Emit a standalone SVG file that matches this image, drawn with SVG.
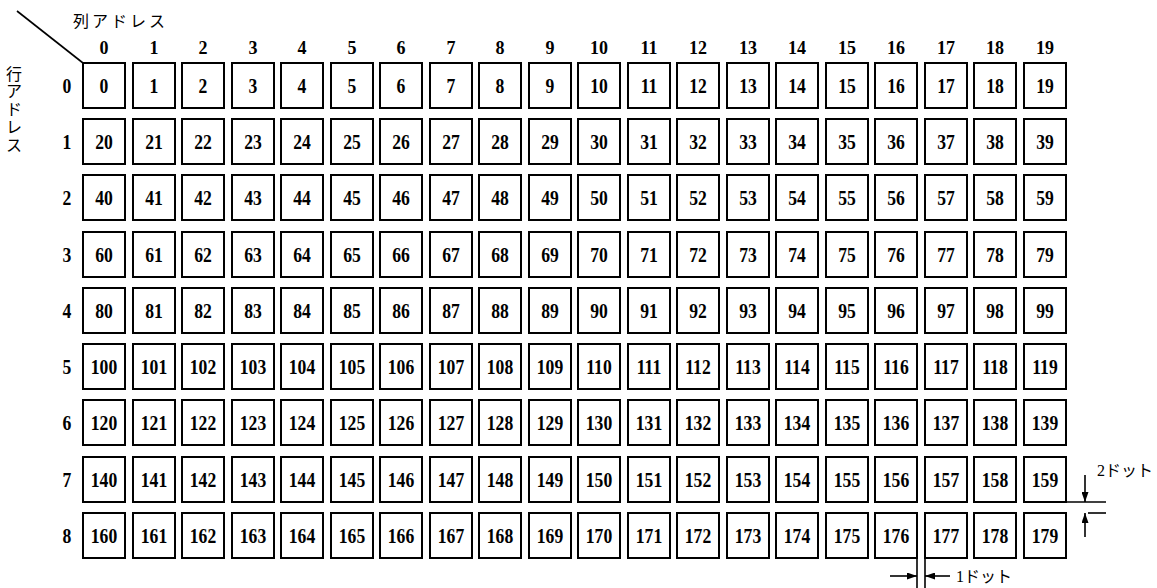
<svg xmlns="http://www.w3.org/2000/svg" width="1157" height="588" viewBox="0 0 1157 588">
<style>
.b{fill:#fff;stroke:#000;stroke-width:2}
.t{font-family:"Liberation Serif",serif;font-weight:bold;font-size:22px;text-anchor:middle;fill:#000;transform:scale(0.8,1)}
.c{font-family:"Liberation Serif",serif;font-weight:bold;font-size:18px;text-anchor:middle;fill:#000}
.j{font-family:"Liberation Serif","Noto Sans CJK JP",sans-serif;font-size:16px;fill:#000}
.l{stroke:#000;stroke-width:1.6;fill:none}
</style>
<defs>
<marker id="ah" markerUnits="userSpaceOnUse" markerWidth="10" markerHeight="7" refX="10" refY="3.5" orient="auto"><path d="M0,0 L10,3.5 L0,7 z" fill="#000"/></marker>
<rect id="cell" class="b" x="-21" y="0" width="42" height="45"/>
</defs>
<rect width="1157" height="588" fill="#fff"/>
<g id="headers">
<line class="l" x1="17" y1="11" x2="83" y2="63"/>
<text class="j" x="73" y="27" letter-spacing="3" font-size="17">列アドレス</text>
<text class="j" text-anchor="middle" font-size="15"><tspan x="14" y="80">行</tspan><tspan x="14" y="97">ア</tspan><tspan x="14" y="115">ド</tspan><tspan x="14" y="133">レ</tspan><tspan x="14" y="151">ス</tspan></text>
<g id="collabels">
<text class="c" x="104" y="54">0</text><text class="c" x="154" y="54">1</text><text class="c" x="203" y="54">2</text><text class="c" x="253" y="54">3</text><text class="c" x="302" y="54">4</text><text class="c" x="352" y="54">5</text><text class="c" x="401" y="54">6</text><text class="c" x="451" y="54">7</text><text class="c" x="500" y="54">8</text><text class="c" x="550" y="54">9</text><text class="c" x="599" y="54">10</text><text class="c" x="649" y="54">11</text><text class="c" x="698" y="54">12</text><text class="c" x="748" y="54">13</text><text class="c" x="797" y="54">14</text><text class="c" x="847" y="54">15</text><text class="c" x="896" y="54">16</text><text class="c" x="946" y="54">17</text><text class="c" x="995" y="54">18</text><text class="c" x="1045" y="54">19</text>
</g>
<g id="rowlabels" transform="translate(67,0)">
<text class="t" x="0" y="93">0</text><text class="t" x="0" y="149">1</text><text class="t" x="0" y="205">2</text><text class="t" x="0" y="262">3</text><text class="t" x="0" y="318">4</text><text class="t" x="0" y="374">5</text><text class="t" x="0" y="430">6</text><text class="t" x="0" y="487">7</text><text class="t" x="0" y="543">8</text>
</g>
</g>
<g id="cells">
<g id="n0" transform="translate(104,63)"><use href="#cell"/><text class="t" y="30">0</text></g>
<g id="n1" transform="translate(154,63)"><use href="#cell"/><text class="t" y="30">1</text></g>
<g id="n2" transform="translate(203,63)"><use href="#cell"/><text class="t" y="30">2</text></g>
<g id="n3" transform="translate(253,63)"><use href="#cell"/><text class="t" y="30">3</text></g>
<g id="n4" transform="translate(302,63)"><use href="#cell"/><text class="t" y="30">4</text></g>
<g id="n5" transform="translate(352,63)"><use href="#cell"/><text class="t" y="30">5</text></g>
<g id="n6" transform="translate(401,63)"><use href="#cell"/><text class="t" y="30">6</text></g>
<g id="n7" transform="translate(451,63)"><use href="#cell"/><text class="t" y="30">7</text></g>
<g id="n8" transform="translate(500,63)"><use href="#cell"/><text class="t" y="30">8</text></g>
<g id="n9" transform="translate(550,63)"><use href="#cell"/><text class="t" y="30">9</text></g>
<g id="n10" transform="translate(599,63)"><use href="#cell"/><text class="t" y="30">10</text></g>
<g id="n11" transform="translate(649,63)"><use href="#cell"/><text class="t" y="30">11</text></g>
<g id="n12" transform="translate(698,63)"><use href="#cell"/><text class="t" y="30">12</text></g>
<g id="n13" transform="translate(748,63)"><use href="#cell"/><text class="t" y="30">13</text></g>
<g id="n14" transform="translate(797,63)"><use href="#cell"/><text class="t" y="30">14</text></g>
<g id="n15" transform="translate(847,63)"><use href="#cell"/><text class="t" y="30">15</text></g>
<g id="n16" transform="translate(896,63)"><use href="#cell"/><text class="t" y="30">16</text></g>
<g id="n17" transform="translate(946,63)"><use href="#cell"/><text class="t" y="30">17</text></g>
<g id="n18" transform="translate(995,63)"><use href="#cell"/><text class="t" y="30">18</text></g>
<g id="n19" transform="translate(1045,63)"><use href="#cell"/><text class="t" y="30">19</text></g>
<g id="n20" transform="translate(104,119)"><use href="#cell"/><text class="t" y="30">20</text></g>
<g id="n21" transform="translate(154,119)"><use href="#cell"/><text class="t" y="30">21</text></g>
<g id="n22" transform="translate(203,119)"><use href="#cell"/><text class="t" y="30">22</text></g>
<g id="n23" transform="translate(253,119)"><use href="#cell"/><text class="t" y="30">23</text></g>
<g id="n24" transform="translate(302,119)"><use href="#cell"/><text class="t" y="30">24</text></g>
<g id="n25" transform="translate(352,119)"><use href="#cell"/><text class="t" y="30">25</text></g>
<g id="n26" transform="translate(401,119)"><use href="#cell"/><text class="t" y="30">26</text></g>
<g id="n27" transform="translate(451,119)"><use href="#cell"/><text class="t" y="30">27</text></g>
<g id="n28" transform="translate(500,119)"><use href="#cell"/><text class="t" y="30">28</text></g>
<g id="n29" transform="translate(550,119)"><use href="#cell"/><text class="t" y="30">29</text></g>
<g id="n30" transform="translate(599,119)"><use href="#cell"/><text class="t" y="30">30</text></g>
<g id="n31" transform="translate(649,119)"><use href="#cell"/><text class="t" y="30">31</text></g>
<g id="n32" transform="translate(698,119)"><use href="#cell"/><text class="t" y="30">32</text></g>
<g id="n33" transform="translate(748,119)"><use href="#cell"/><text class="t" y="30">33</text></g>
<g id="n34" transform="translate(797,119)"><use href="#cell"/><text class="t" y="30">34</text></g>
<g id="n35" transform="translate(847,119)"><use href="#cell"/><text class="t" y="30">35</text></g>
<g id="n36" transform="translate(896,119)"><use href="#cell"/><text class="t" y="30">36</text></g>
<g id="n37" transform="translate(946,119)"><use href="#cell"/><text class="t" y="30">37</text></g>
<g id="n38" transform="translate(995,119)"><use href="#cell"/><text class="t" y="30">38</text></g>
<g id="n39" transform="translate(1045,119)"><use href="#cell"/><text class="t" y="30">39</text></g>
<g id="n40" transform="translate(104,175)"><use href="#cell"/><text class="t" y="30">40</text></g>
<g id="n41" transform="translate(154,175)"><use href="#cell"/><text class="t" y="30">41</text></g>
<g id="n42" transform="translate(203,175)"><use href="#cell"/><text class="t" y="30">42</text></g>
<g id="n43" transform="translate(253,175)"><use href="#cell"/><text class="t" y="30">43</text></g>
<g id="n44" transform="translate(302,175)"><use href="#cell"/><text class="t" y="30">44</text></g>
<g id="n45" transform="translate(352,175)"><use href="#cell"/><text class="t" y="30">45</text></g>
<g id="n46" transform="translate(401,175)"><use href="#cell"/><text class="t" y="30">46</text></g>
<g id="n47" transform="translate(451,175)"><use href="#cell"/><text class="t" y="30">47</text></g>
<g id="n48" transform="translate(500,175)"><use href="#cell"/><text class="t" y="30">48</text></g>
<g id="n49" transform="translate(550,175)"><use href="#cell"/><text class="t" y="30">49</text></g>
<g id="n50" transform="translate(599,175)"><use href="#cell"/><text class="t" y="30">50</text></g>
<g id="n51" transform="translate(649,175)"><use href="#cell"/><text class="t" y="30">51</text></g>
<g id="n52" transform="translate(698,175)"><use href="#cell"/><text class="t" y="30">52</text></g>
<g id="n53" transform="translate(748,175)"><use href="#cell"/><text class="t" y="30">53</text></g>
<g id="n54" transform="translate(797,175)"><use href="#cell"/><text class="t" y="30">54</text></g>
<g id="n55" transform="translate(847,175)"><use href="#cell"/><text class="t" y="30">55</text></g>
<g id="n56" transform="translate(896,175)"><use href="#cell"/><text class="t" y="30">56</text></g>
<g id="n57" transform="translate(946,175)"><use href="#cell"/><text class="t" y="30">57</text></g>
<g id="n58" transform="translate(995,175)"><use href="#cell"/><text class="t" y="30">58</text></g>
<g id="n59" transform="translate(1045,175)"><use href="#cell"/><text class="t" y="30">59</text></g>
<g id="n60" transform="translate(104,232)"><use href="#cell"/><text class="t" y="30">60</text></g>
<g id="n61" transform="translate(154,232)"><use href="#cell"/><text class="t" y="30">61</text></g>
<g id="n62" transform="translate(203,232)"><use href="#cell"/><text class="t" y="30">62</text></g>
<g id="n63" transform="translate(253,232)"><use href="#cell"/><text class="t" y="30">63</text></g>
<g id="n64" transform="translate(302,232)"><use href="#cell"/><text class="t" y="30">64</text></g>
<g id="n65" transform="translate(352,232)"><use href="#cell"/><text class="t" y="30">65</text></g>
<g id="n66" transform="translate(401,232)"><use href="#cell"/><text class="t" y="30">66</text></g>
<g id="n67" transform="translate(451,232)"><use href="#cell"/><text class="t" y="30">67</text></g>
<g id="n68" transform="translate(500,232)"><use href="#cell"/><text class="t" y="30">68</text></g>
<g id="n69" transform="translate(550,232)"><use href="#cell"/><text class="t" y="30">69</text></g>
<g id="n70" transform="translate(599,232)"><use href="#cell"/><text class="t" y="30">70</text></g>
<g id="n71" transform="translate(649,232)"><use href="#cell"/><text class="t" y="30">71</text></g>
<g id="n72" transform="translate(698,232)"><use href="#cell"/><text class="t" y="30">72</text></g>
<g id="n73" transform="translate(748,232)"><use href="#cell"/><text class="t" y="30">73</text></g>
<g id="n74" transform="translate(797,232)"><use href="#cell"/><text class="t" y="30">74</text></g>
<g id="n75" transform="translate(847,232)"><use href="#cell"/><text class="t" y="30">75</text></g>
<g id="n76" transform="translate(896,232)"><use href="#cell"/><text class="t" y="30">76</text></g>
<g id="n77" transform="translate(946,232)"><use href="#cell"/><text class="t" y="30">77</text></g>
<g id="n78" transform="translate(995,232)"><use href="#cell"/><text class="t" y="30">78</text></g>
<g id="n79" transform="translate(1045,232)"><use href="#cell"/><text class="t" y="30">79</text></g>
<g id="n80" transform="translate(104,288)"><use href="#cell"/><text class="t" y="30">80</text></g>
<g id="n81" transform="translate(154,288)"><use href="#cell"/><text class="t" y="30">81</text></g>
<g id="n82" transform="translate(203,288)"><use href="#cell"/><text class="t" y="30">82</text></g>
<g id="n83" transform="translate(253,288)"><use href="#cell"/><text class="t" y="30">83</text></g>
<g id="n84" transform="translate(302,288)"><use href="#cell"/><text class="t" y="30">84</text></g>
<g id="n85" transform="translate(352,288)"><use href="#cell"/><text class="t" y="30">85</text></g>
<g id="n86" transform="translate(401,288)"><use href="#cell"/><text class="t" y="30">86</text></g>
<g id="n87" transform="translate(451,288)"><use href="#cell"/><text class="t" y="30">87</text></g>
<g id="n88" transform="translate(500,288)"><use href="#cell"/><text class="t" y="30">88</text></g>
<g id="n89" transform="translate(550,288)"><use href="#cell"/><text class="t" y="30">89</text></g>
<g id="n90" transform="translate(599,288)"><use href="#cell"/><text class="t" y="30">90</text></g>
<g id="n91" transform="translate(649,288)"><use href="#cell"/><text class="t" y="30">91</text></g>
<g id="n92" transform="translate(698,288)"><use href="#cell"/><text class="t" y="30">92</text></g>
<g id="n93" transform="translate(748,288)"><use href="#cell"/><text class="t" y="30">93</text></g>
<g id="n94" transform="translate(797,288)"><use href="#cell"/><text class="t" y="30">94</text></g>
<g id="n95" transform="translate(847,288)"><use href="#cell"/><text class="t" y="30">95</text></g>
<g id="n96" transform="translate(896,288)"><use href="#cell"/><text class="t" y="30">96</text></g>
<g id="n97" transform="translate(946,288)"><use href="#cell"/><text class="t" y="30">97</text></g>
<g id="n98" transform="translate(995,288)"><use href="#cell"/><text class="t" y="30">98</text></g>
<g id="n99" transform="translate(1045,288)"><use href="#cell"/><text class="t" y="30">99</text></g>
<g id="n100" transform="translate(104,344)"><use href="#cell"/><text class="t" y="30">100</text></g>
<g id="n101" transform="translate(154,344)"><use href="#cell"/><text class="t" y="30">101</text></g>
<g id="n102" transform="translate(203,344)"><use href="#cell"/><text class="t" y="30">102</text></g>
<g id="n103" transform="translate(253,344)"><use href="#cell"/><text class="t" y="30">103</text></g>
<g id="n104" transform="translate(302,344)"><use href="#cell"/><text class="t" y="30">104</text></g>
<g id="n105" transform="translate(352,344)"><use href="#cell"/><text class="t" y="30">105</text></g>
<g id="n106" transform="translate(401,344)"><use href="#cell"/><text class="t" y="30">106</text></g>
<g id="n107" transform="translate(451,344)"><use href="#cell"/><text class="t" y="30">107</text></g>
<g id="n108" transform="translate(500,344)"><use href="#cell"/><text class="t" y="30">108</text></g>
<g id="n109" transform="translate(550,344)"><use href="#cell"/><text class="t" y="30">109</text></g>
<g id="n110" transform="translate(599,344)"><use href="#cell"/><text class="t" y="30">110</text></g>
<g id="n111" transform="translate(649,344)"><use href="#cell"/><text class="t" y="30">111</text></g>
<g id="n112" transform="translate(698,344)"><use href="#cell"/><text class="t" y="30">112</text></g>
<g id="n113" transform="translate(748,344)"><use href="#cell"/><text class="t" y="30">113</text></g>
<g id="n114" transform="translate(797,344)"><use href="#cell"/><text class="t" y="30">114</text></g>
<g id="n115" transform="translate(847,344)"><use href="#cell"/><text class="t" y="30">115</text></g>
<g id="n116" transform="translate(896,344)"><use href="#cell"/><text class="t" y="30">116</text></g>
<g id="n117" transform="translate(946,344)"><use href="#cell"/><text class="t" y="30">117</text></g>
<g id="n118" transform="translate(995,344)"><use href="#cell"/><text class="t" y="30">118</text></g>
<g id="n119" transform="translate(1045,344)"><use href="#cell"/><text class="t" y="30">119</text></g>
<g id="n120" transform="translate(104,400)"><use href="#cell"/><text class="t" y="30">120</text></g>
<g id="n121" transform="translate(154,400)"><use href="#cell"/><text class="t" y="30">121</text></g>
<g id="n122" transform="translate(203,400)"><use href="#cell"/><text class="t" y="30">122</text></g>
<g id="n123" transform="translate(253,400)"><use href="#cell"/><text class="t" y="30">123</text></g>
<g id="n124" transform="translate(302,400)"><use href="#cell"/><text class="t" y="30">124</text></g>
<g id="n125" transform="translate(352,400)"><use href="#cell"/><text class="t" y="30">125</text></g>
<g id="n126" transform="translate(401,400)"><use href="#cell"/><text class="t" y="30">126</text></g>
<g id="n127" transform="translate(451,400)"><use href="#cell"/><text class="t" y="30">127</text></g>
<g id="n128" transform="translate(500,400)"><use href="#cell"/><text class="t" y="30">128</text></g>
<g id="n129" transform="translate(550,400)"><use href="#cell"/><text class="t" y="30">129</text></g>
<g id="n130" transform="translate(599,400)"><use href="#cell"/><text class="t" y="30">130</text></g>
<g id="n131" transform="translate(649,400)"><use href="#cell"/><text class="t" y="30">131</text></g>
<g id="n132" transform="translate(698,400)"><use href="#cell"/><text class="t" y="30">132</text></g>
<g id="n133" transform="translate(748,400)"><use href="#cell"/><text class="t" y="30">133</text></g>
<g id="n134" transform="translate(797,400)"><use href="#cell"/><text class="t" y="30">134</text></g>
<g id="n135" transform="translate(847,400)"><use href="#cell"/><text class="t" y="30">135</text></g>
<g id="n136" transform="translate(896,400)"><use href="#cell"/><text class="t" y="30">136</text></g>
<g id="n137" transform="translate(946,400)"><use href="#cell"/><text class="t" y="30">137</text></g>
<g id="n138" transform="translate(995,400)"><use href="#cell"/><text class="t" y="30">138</text></g>
<g id="n139" transform="translate(1045,400)"><use href="#cell"/><text class="t" y="30">139</text></g>
<g id="n140" transform="translate(104,457)"><use href="#cell"/><text class="t" y="30">140</text></g>
<g id="n141" transform="translate(154,457)"><use href="#cell"/><text class="t" y="30">141</text></g>
<g id="n142" transform="translate(203,457)"><use href="#cell"/><text class="t" y="30">142</text></g>
<g id="n143" transform="translate(253,457)"><use href="#cell"/><text class="t" y="30">143</text></g>
<g id="n144" transform="translate(302,457)"><use href="#cell"/><text class="t" y="30">144</text></g>
<g id="n145" transform="translate(352,457)"><use href="#cell"/><text class="t" y="30">145</text></g>
<g id="n146" transform="translate(401,457)"><use href="#cell"/><text class="t" y="30">146</text></g>
<g id="n147" transform="translate(451,457)"><use href="#cell"/><text class="t" y="30">147</text></g>
<g id="n148" transform="translate(500,457)"><use href="#cell"/><text class="t" y="30">148</text></g>
<g id="n149" transform="translate(550,457)"><use href="#cell"/><text class="t" y="30">149</text></g>
<g id="n150" transform="translate(599,457)"><use href="#cell"/><text class="t" y="30">150</text></g>
<g id="n151" transform="translate(649,457)"><use href="#cell"/><text class="t" y="30">151</text></g>
<g id="n152" transform="translate(698,457)"><use href="#cell"/><text class="t" y="30">152</text></g>
<g id="n153" transform="translate(748,457)"><use href="#cell"/><text class="t" y="30">153</text></g>
<g id="n154" transform="translate(797,457)"><use href="#cell"/><text class="t" y="30">154</text></g>
<g id="n155" transform="translate(847,457)"><use href="#cell"/><text class="t" y="30">155</text></g>
<g id="n156" transform="translate(896,457)"><use href="#cell"/><text class="t" y="30">156</text></g>
<g id="n157" transform="translate(946,457)"><use href="#cell"/><text class="t" y="30">157</text></g>
<g id="n158" transform="translate(995,457)"><use href="#cell"/><text class="t" y="30">158</text></g>
<g id="n159" transform="translate(1045,457)"><use href="#cell"/><text class="t" y="30">159</text></g>
<g id="n160" transform="translate(104,513)"><use href="#cell"/><text class="t" y="30">160</text></g>
<g id="n161" transform="translate(154,513)"><use href="#cell"/><text class="t" y="30">161</text></g>
<g id="n162" transform="translate(203,513)"><use href="#cell"/><text class="t" y="30">162</text></g>
<g id="n163" transform="translate(253,513)"><use href="#cell"/><text class="t" y="30">163</text></g>
<g id="n164" transform="translate(302,513)"><use href="#cell"/><text class="t" y="30">164</text></g>
<g id="n165" transform="translate(352,513)"><use href="#cell"/><text class="t" y="30">165</text></g>
<g id="n166" transform="translate(401,513)"><use href="#cell"/><text class="t" y="30">166</text></g>
<g id="n167" transform="translate(451,513)"><use href="#cell"/><text class="t" y="30">167</text></g>
<g id="n168" transform="translate(500,513)"><use href="#cell"/><text class="t" y="30">168</text></g>
<g id="n169" transform="translate(550,513)"><use href="#cell"/><text class="t" y="30">169</text></g>
<g id="n170" transform="translate(599,513)"><use href="#cell"/><text class="t" y="30">170</text></g>
<g id="n171" transform="translate(649,513)"><use href="#cell"/><text class="t" y="30">171</text></g>
<g id="n172" transform="translate(698,513)"><use href="#cell"/><text class="t" y="30">172</text></g>
<g id="n173" transform="translate(748,513)"><use href="#cell"/><text class="t" y="30">173</text></g>
<g id="n174" transform="translate(797,513)"><use href="#cell"/><text class="t" y="30">174</text></g>
<g id="n175" transform="translate(847,513)"><use href="#cell"/><text class="t" y="30">175</text></g>
<g id="n176" transform="translate(896,513)"><use href="#cell"/><text class="t" y="30">176</text></g>
<g id="n177" transform="translate(946,513)"><use href="#cell"/><text class="t" y="30">177</text></g>
<g id="n178" transform="translate(995,513)"><use href="#cell"/><text class="t" y="30">178</text></g>
<g id="n179" transform="translate(1045,513)"><use href="#cell"/><text class="t" y="30">179</text></g>
</g>
<g id="dimensions">
<line class="l" x1="1066" y1="502" x2="1106" y2="502"/>
<line class="l" x1="1088" y1="513" x2="1106" y2="513"/>
<line class="l" x1="1085" y1="475" x2="1085" y2="502" marker-end="url(#ah)"/>
<line class="l" x1="1085" y1="537" x2="1085" y2="513" marker-end="url(#ah)"/>
<text class="j" x="1097" y="476">2ドット</text>
<line class="l" x1="917" y1="558" x2="917" y2="588"/>
<line class="l" x1="925" y1="558" x2="925" y2="588"/>
<line class="l" x1="890" y1="576" x2="917" y2="576" marker-end="url(#ah)"/>
<line class="l" x1="950" y1="576" x2="925" y2="576" marker-end="url(#ah)"/>
<text class="j" x="956" y="582">1ドット</text>
</g>
<text class="j" x="535" y="601" font-size="18">図</text>
</svg>
